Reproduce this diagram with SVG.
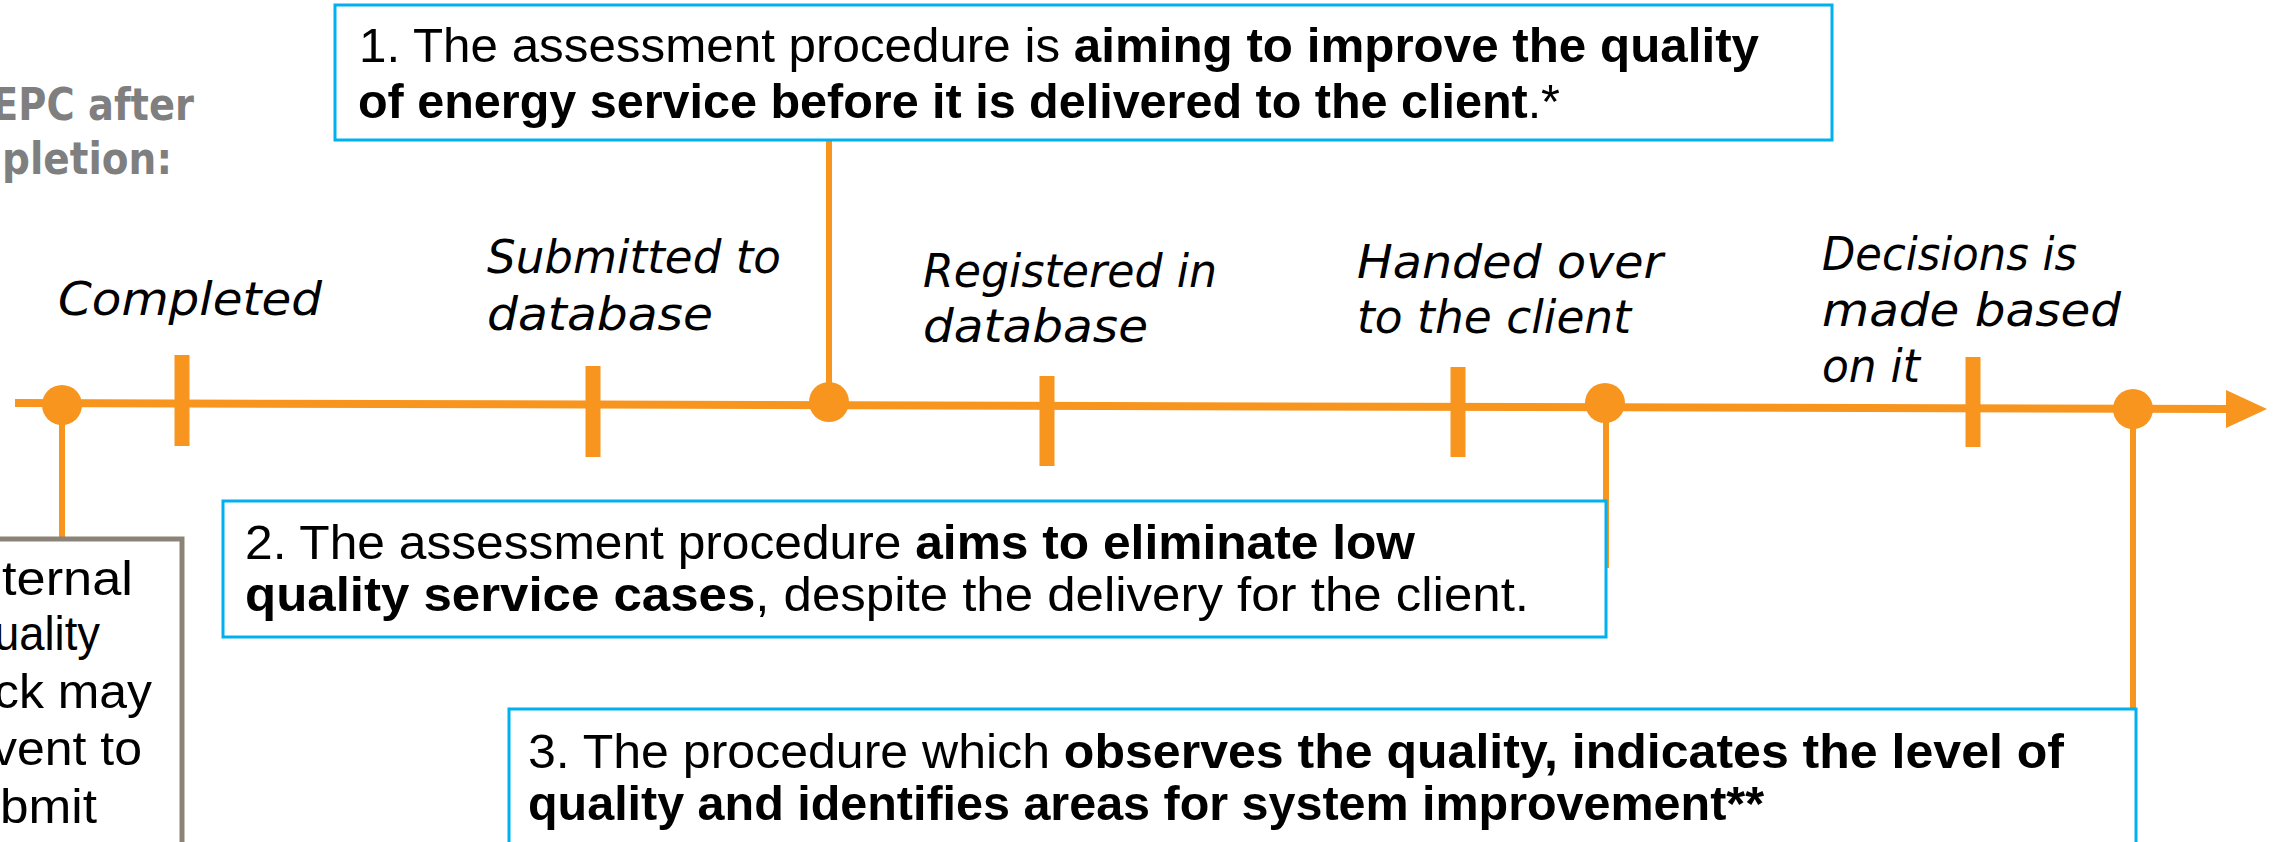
<svg xmlns="http://www.w3.org/2000/svg" width="2277" height="842" viewBox="0 0 2277 842">
  <defs>
    <style>
      .orange { stroke: #F7951F; fill: none; }
      .dot { fill: #F7951F; }
      .tick { stroke: #F7951F; stroke-width: 15; }
      .link { stroke: #F7951F; stroke-width: 6; fill: none; }
      .note { fill: #FFFFFF; stroke: #00B0F0; stroke-width: 3; }
      .grey-box { fill: #FFFFFF; stroke: #8B8378; stroke-width: 5; }
      .body { font-family: "Liberation Sans", Arial, sans-serif; font-size: 48px; fill: #000000; }
      .b { font-weight: bold; }
      .stage { font-family: "DejaVu Sans", "Liberation Sans", sans-serif; font-style: italic; font-size: 46px; fill: #000000; }
      .heading { font-family: "DejaVu Sans", "Liberation Sans", sans-serif; font-weight: bold; font-size: 44px; fill: #7F7F7F; }
    </style>
    <marker id="arrow" markerUnits="userSpaceOnUse" markerWidth="42" markerHeight="40" refX="2" refY="20" orient="auto">
      <polygon points="0,1 41,20 0,39" fill="#F7951F"/>
    </marker>
  </defs>

  <rect x="0" y="0" width="2277" height="842" fill="#FFFFFF"/>

  <!-- heading, partly outside the left edge -->
  <g id="heading">
    <text class="heading" x="-8" y="120" textLength="202" lengthAdjust="spacingAndGlyphs">EPC after</text>
    <text class="heading" x="2" y="174" textLength="170" lengthAdjust="spacingAndGlyphs">pletion:</text>
  </g>

  <!-- timeline axis with ticks and event dots -->
  <g id="timeline">
    <line class="orange" x1="15" y1="403" x2="2228" y2="409" stroke-width="8" marker-end="url(#arrow)"/>
    <line class="tick" x1="182" y1="355" x2="182" y2="446"/>
    <line class="tick" x1="593" y1="366" x2="593" y2="457"/>
    <line class="tick" x1="1047" y1="376" x2="1047" y2="466"/>
    <line class="tick" x1="1458" y1="367" x2="1458" y2="457"/>
    <line class="tick" x1="1973" y1="357" x2="1973" y2="447"/>
    <circle class="dot" cx="62" cy="405" r="20"/>
    <circle class="dot" cx="829" cy="402" r="20"/>
    <circle class="dot" cx="1605" cy="403" r="20"/>
    <circle class="dot" cx="2133" cy="409" r="20"/>
  </g>

  <!-- stage labels above the axis -->
  <g id="stage-completed">
    <text class="stage" x="58" y="315" textLength="264" lengthAdjust="spacingAndGlyphs">Completed</text>
  </g>
  <g id="stage-submitted">
    <text class="stage" x="487" y="273" textLength="294" lengthAdjust="spacingAndGlyphs">Submitted to</text>
    <text class="stage" x="487" y="330" textLength="226" lengthAdjust="spacingAndGlyphs">database</text>
  </g>
  <g id="stage-registered">
    <text class="stage" x="923" y="287" textLength="294" lengthAdjust="spacingAndGlyphs">Registered in</text>
    <text class="stage" x="923" y="342" textLength="225" lengthAdjust="spacingAndGlyphs">database</text>
  </g>
  <g id="stage-handed">
    <text class="stage" x="1357" y="278" textLength="306" lengthAdjust="spacingAndGlyphs">Handed over</text>
    <text class="stage" x="1357" y="333" textLength="274" lengthAdjust="spacingAndGlyphs">to the client</text>
  </g>
  <g id="stage-decisions">
    <text class="stage" x="1822" y="270" textLength="255" lengthAdjust="spacingAndGlyphs">Decisions is</text>
    <text class="stage" x="1822" y="326" textLength="299" lengthAdjust="spacingAndGlyphs">made based</text>
    <text class="stage" x="1822" y="382" textLength="98" lengthAdjust="spacingAndGlyphs">on it</text>
  </g>

  <!-- vertical links from event dots to the notes -->
  <g id="connectors">
    <line class="link" x1="62" y1="405" x2="62" y2="539"/>
    <line class="link" x1="829" y1="141" x2="829" y2="402"/>
    <line class="link" x1="1606" y1="403" x2="1606" y2="568"/>
    <line class="link" x1="2133" y1="409" x2="2133" y2="742"/>
  </g>

  <!-- internal check note, cut by the left edge -->
  <g id="note-internal">
    <rect class="grey-box" x="-20" y="539" width="202" height="360"/>
    <text class="body" x="2" y="595" textLength="131" lengthAdjust="spacingAndGlyphs">ternal</text>
    <text class="body" x="-6" y="650" textLength="106" lengthAdjust="spacingAndGlyphs">uality</text>
    <text class="body" x="-6" y="708" textLength="158" lengthAdjust="spacingAndGlyphs">ck may</text>
    <text class="body" x="-8" y="765" textLength="150" lengthAdjust="spacingAndGlyphs">vent to</text>
    <text class="body" x="0" y="823" textLength="97" lengthAdjust="spacingAndGlyphs">bmit</text>
  </g>

  <g id="note-1">
    <rect class="note" x="335" y="5" width="1497" height="135"/>
    <text class="body" x="359" y="62" textLength="1400" lengthAdjust="spacingAndGlyphs">1. The assessment procedure is <tspan class="b">aiming to improve the quality</tspan></text>
    <text class="body" x="358" y="118" textLength="1202" lengthAdjust="spacingAndGlyphs"><tspan class="b">of energy service before it is delivered to the client</tspan>.*</text>
  </g>

  <g id="note-2">
    <rect class="note" x="223" y="501" width="1383" height="136"/>
    <text class="body" x="245" y="559" textLength="1170" lengthAdjust="spacingAndGlyphs">2. The assessment procedure <tspan class="b">aims to eliminate low</tspan></text>
    <text class="body" x="245" y="611" textLength="1284" lengthAdjust="spacingAndGlyphs"><tspan class="b">quality service cases</tspan>, despite the delivery for the client.</text>
  </g>

  <g id="note-3">
    <rect class="note" x="509" y="709" width="1627" height="200"/>
    <text class="body" x="528" y="768" textLength="1536" lengthAdjust="spacingAndGlyphs">3. The procedure which <tspan class="b">observes the quality, indicates the level of</tspan></text>
    <text class="body b" x="528" y="820" textLength="1236" lengthAdjust="spacingAndGlyphs">quality and identifies areas for system improvement**</text>
  </g>
</svg>
